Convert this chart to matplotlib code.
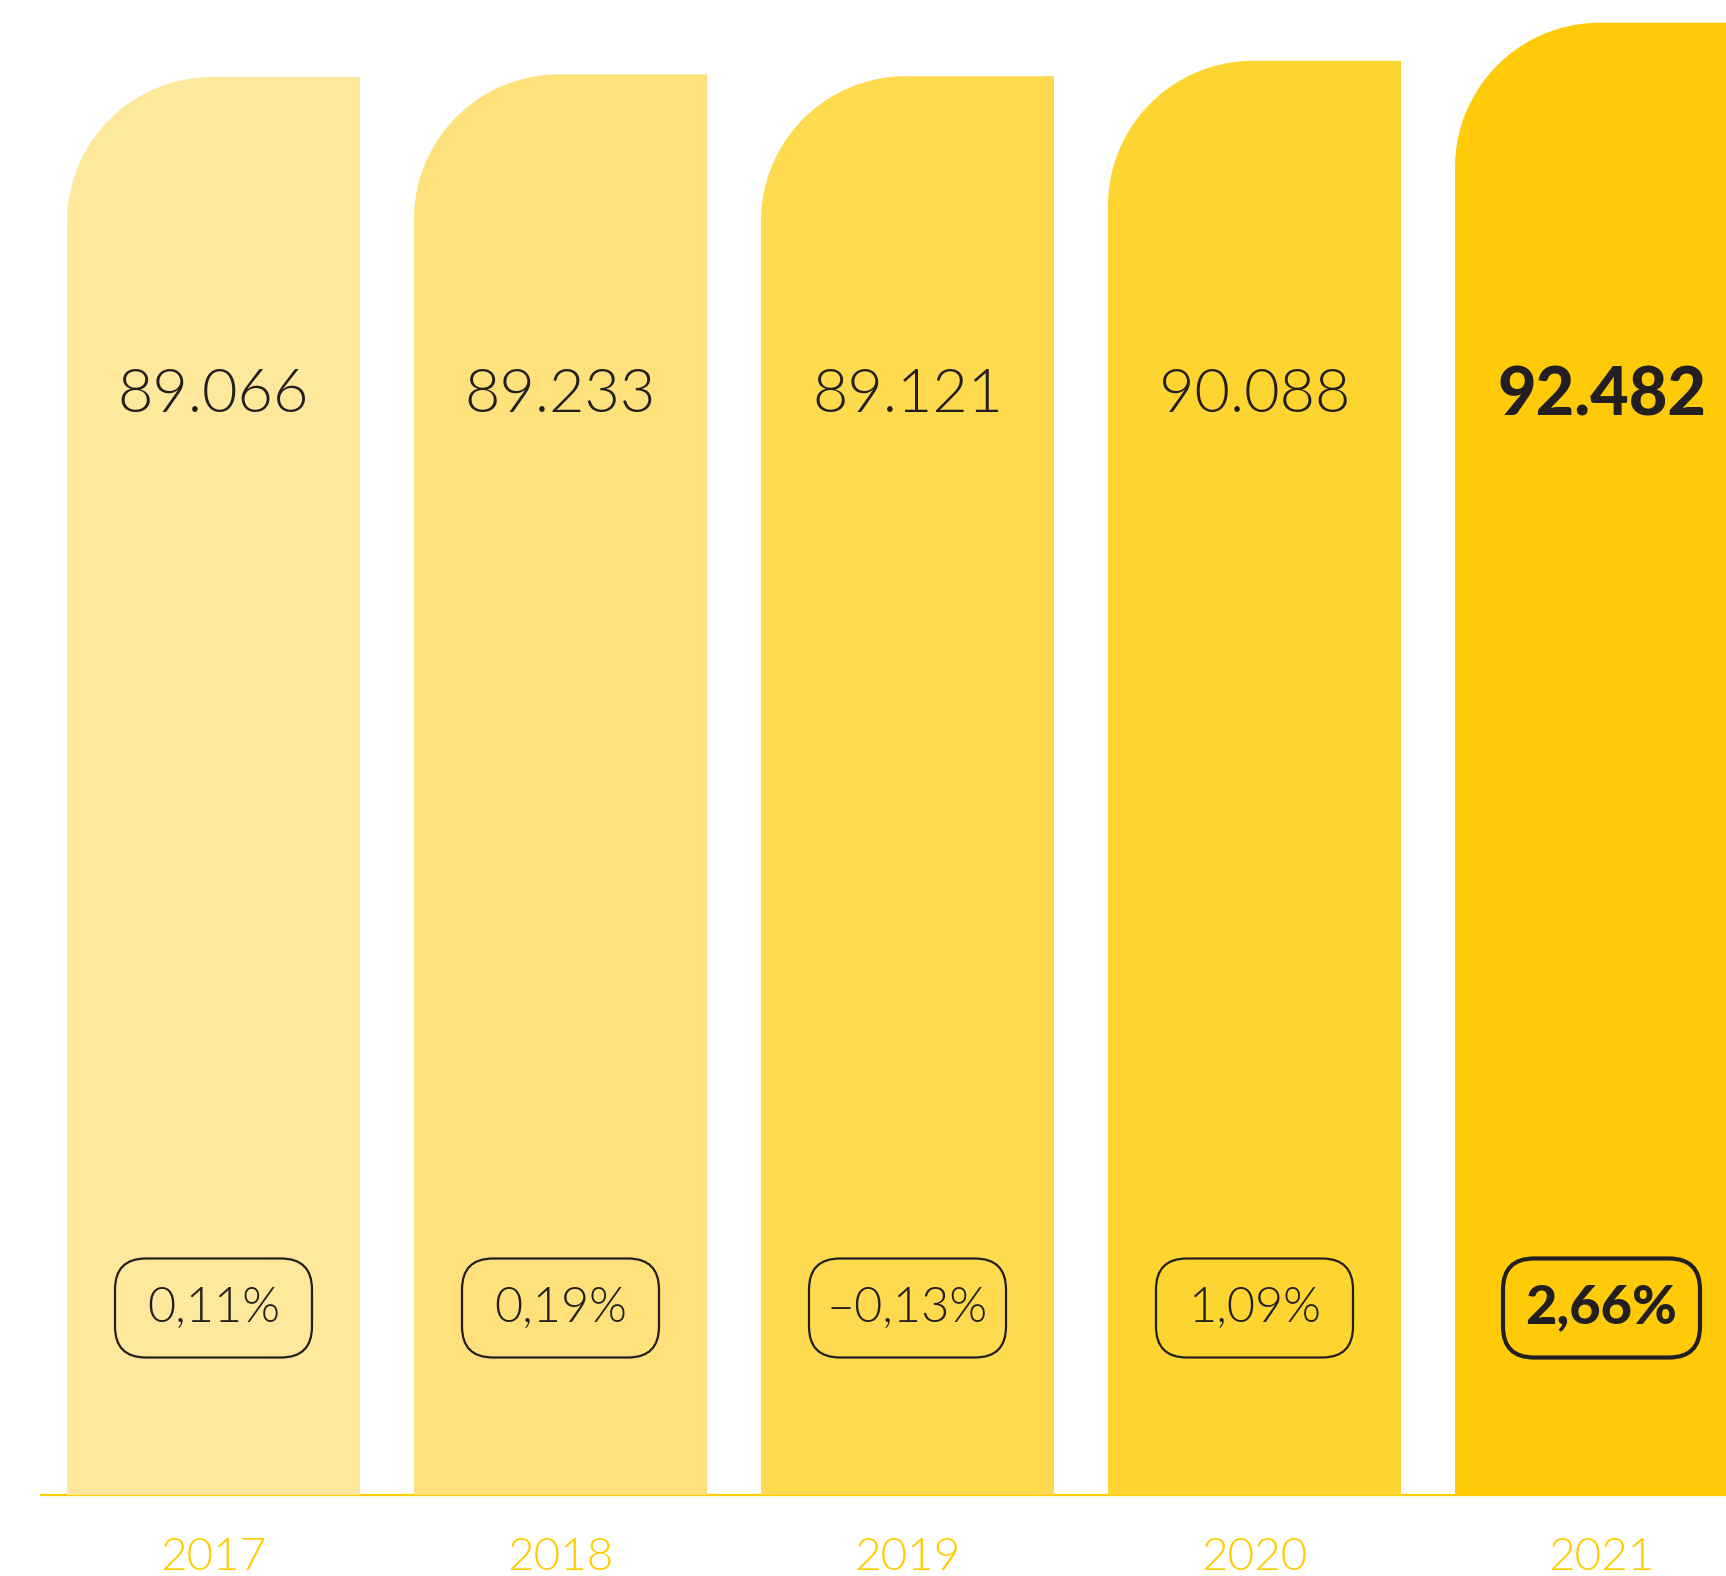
import matplotlib.pyplot as plt
import matplotlib.transforms as mtransforms
from matplotlib.patches import PathPatch, FancyBboxPatch
from matplotlib.path import Path
import numpy as np

# Data
years = ['2017', '2018', '2019', '2020', '2021']
values = [89.066, 89.233, 89.121, 90.088, 92.482]
value_labels = ['89.066', '89.233', '89.121', '90.088', '92.482']
change_labels = ['0,11%', '0,19%', '\u20130,13%', '1,09%', '2,66%']

colors = ['#FEE89B', '#FEE17A', '#FEDA4F', '#FED430', '#FFCB08']
ink = '#231F20'
gold = '#FFCC00'

W, H, DPI = 1726, 1576, 100
fig = plt.figure(figsize=(W / DPI, H / DPI), dpi=DPI)
ax = fig.add_axes([0, 0, 1, 1])
ax.set_axis_off()

step_px = 347.0
first_px = 213.5
base_px = 81.0
px_per_unit = 15.92
ax.set_xlim(-first_px / step_px, (W - first_px) / step_px)
ax.set_ylim(-base_px / px_per_unit, (H - base_px) / px_per_unit)

bar_w = 293.0 / step_px
r_px = 145.0
rx = r_px / step_px
ry = r_px / px_per_unit


def left_round_bar(x0, w, h):
    # bar with only the top-left corner rounded (quarter ellipse in data units)
    t = np.linspace(np.pi, np.pi / 2, 40)
    cx, cy = x0 + rx, h - ry
    arc = np.column_stack([cx + rx * np.cos(t), cy + ry * np.sin(t)])
    verts = [(x0, 0), (x0, cy)] + [tuple(p) for p in arc] + [(x0 + w, h), (x0 + w, 0), (x0, 0)]
    codes = [Path.MOVETO] + [Path.LINETO] * (len(verts) - 2) + [Path.CLOSEPOLY]
    return Path(verts, codes)


# baseline
ax.plot([40 / W, 1], [0, 0], transform=mtransforms.blended_transform_factory(ax.transAxes, ax.transData),
        color=gold, lw=1.6, zorder=1, solid_capstyle='butt')

xtrans = ax.get_xaxis_transform()
for i, (yr, v) in enumerate(zip(years, values)):
    last = i == len(years) - 1
    ax.add_patch(PathPatch(left_round_bar(i - bar_w / 2, bar_w, v), facecolor=colors[i],
                           edgecolor='none', zorder=2))

    ax.text(i, 1180 / H, value_labels[i], transform=xtrans,
            ha='center', va='center', fontsize=48 if last else 44, color=ink, family='Lato',
            fontweight='black' if last else 300, zorder=4)

    # percentage change pill, fixed size in inches around the anchor point
    bw, bh = 1.97, 0.99
    trans = fig.dpi_scale_trans + mtransforms.ScaledTranslation(i, 268 / H, xtrans)
    ax.add_patch(FancyBboxPatch((-bw / 2, -bh / 2), bw, bh,
                                boxstyle='round,pad=0,rounding_size=0.31',
                                facecolor='none', edgecolor=ink,
                                lw=3.0 if last else 1.6, transform=trans, zorder=3))
    ax.text(i, 268 / H, change_labels[i], transform=xtrans,
            ha='center', va='center', fontsize=39 if last else 35, color=ink, family='Lato',
            fontweight='black' if last else 300, zorder=4)

    ax.text(i, 18 / H, yr, transform=xtrans,
            ha='center', va='center', fontsize=33, color=gold, family='Lato',
            fontweight=300, zorder=4)

fig.savefig('out.png', dpi=DPI, facecolor='white')
